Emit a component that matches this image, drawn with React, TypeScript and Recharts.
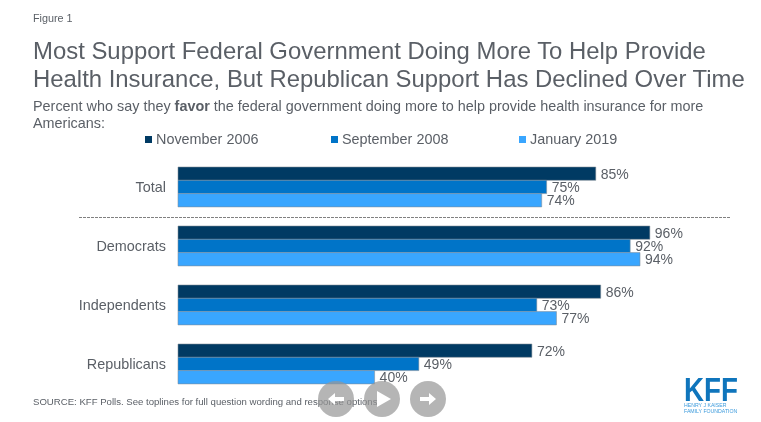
import { BarChart, Bar, XAxis, YAxis, Legend, LabelList } from 'recharts';

const groups = ['Total', 'Democrats', 'Independents', 'Republicans'];
const nov2006 = [85, 96, 86, 72];
const sep2008 = [75, 92, 73, 49];
const jan2019 = [74, 94, 77, 40];

const data = groups.map((group, i) => ({
  group,
  nov2006: nov2006[i],
  sep2008: sep2008[i],
  jan2019: jan2019[i],
}));

const FONT = '"Liberation Sans", Arial, sans-serif';
const TEXT = '#5a5f66';
const BAR_EDGE = 'rgba(130,140,150,0.55)';

const legendLeft = [145, 331, 519];

function KeyRow({ payload }: any) {
  return (
    <div style={{ position: 'relative', height: 18 }}>
      {(payload || []).map((p: any, i: number) => (
        <div key={p.value} style={{ position: 'absolute', left: legendLeft[i], top: 0, display: 'flex', alignItems: 'center', whiteSpace: 'nowrap', fontSize: 14.4, color: TEXT, fontFamily: FONT }}>
          <span style={{ width: 7, height: 7, background: p.color, marginRight: 4, display: 'inline-block' }} />
          {p.value}
        </div>
      ))}
    </div>
  );
}

function Circle({ left, icon }: { left: number; icon: string }) {
  return (
    <div style={{ position: 'absolute', left, top: 381, width: 36, height: 36, borderRadius: 18, background: 'rgba(150,150,150,0.7)' }}>
      <svg width={36} height={36}>
        <path d={icon} fill="#fff" />
      </svg>
    </div>
  );
}

export default function App() {
  return (
    <div style={{ position: 'absolute', left: 0, top: 0, width: 761, height: 422, background: '#fff', overflow: 'hidden', fontFamily: FONT, color: TEXT, filter: 'blur(0.3px)' }}>
      <div style={{ position: 'absolute', left: 33, top: 12, fontSize: 10.8 }}>Figure 1</div>
      <div style={{ position: 'absolute', left: 33, top: 37, fontSize: 23.9, lineHeight: '28px', whiteSpace: 'nowrap' }}>
        Most Support Federal Government Doing More To Help Provide<br />
        Health Insurance, But Republican Support Has Declined Over Time
      </div>
      <div style={{ position: 'absolute', left: 33, top: 98, width: 700, fontSize: 14.4, lineHeight: '17px' }}>
        Percent who say they <b>favor</b> the federal government doing more to help provide health insurance for more Americans:
      </div>

      <BarChart
        width={761}
        height={422}
        data={data}
        layout="vertical"
        barSize={13.3}
        barGap={0}
        margin={{ top: 139, right: 91.5, bottom: 29, left: 0 }}
        style={{ position: 'absolute', left: 0, top: 0 }}
      >
        <XAxis type="number" domain={[0, 100]} hide />
        <YAxis
          type="category"
          dataKey="group"
          axisLine={false}
          tickLine={false}
          width={178}
          tickMargin={6}
          tick={{ fill: TEXT, fontSize: 14.4, fontFamily: FONT }}
        />
        <Legend verticalAlign="top" align="left" itemSorter={null} content={<KeyRow />} wrapperStyle={{ left: 0, top: 131, width: 761 }} />
        <Bar dataKey="nov2006" name="November 2006" fill="#003a63" stroke={BAR_EDGE} isAnimationActive={false}>
          <LabelList dataKey="nov2006" position="right" offset={5} formatter={(v: number) => `${v}%`} fill={TEXT} fontSize={14} fontFamily={FONT} />
        </Bar>
        <Bar dataKey="sep2008" name="September 2008" fill="#0074c8" stroke={BAR_EDGE} isAnimationActive={false}>
          <LabelList dataKey="sep2008" position="right" offset={5} formatter={(v: number) => `${v}%`} fill={TEXT} fontSize={14} fontFamily={FONT} />
        </Bar>
        <Bar dataKey="jan2019" name="January 2019" fill="#39a6ff" stroke={BAR_EDGE} isAnimationActive={false}>
          <LabelList dataKey="jan2019" position="right" offset={5} formatter={(v: number) => `${v}%`} fill={TEXT} fontSize={14} fontFamily={FONT} />
        </Bar>
      </BarChart>

      <svg width={761} height={422} style={{ position: 'absolute', left: 0, top: 0, pointerEvents: 'none' }}>
        <line x1={79} x2={731} y1={217.5} y2={217.5} stroke="#808080" strokeDasharray="3 1" />
      </svg>

      <div style={{ position: 'absolute', left: 33, top: 396, fontSize: 9.6, whiteSpace: 'nowrap' }}>
        SOURCE: KFF Polls. See toplines for full question wording and response options.
      </div>

      <Circle left={318} icon="M10 18 L17 12 V16 H26 V20 H17 V24 Z" />
      <Circle left={364} icon="M13 10 L27 18 L13 26 Z" />
      <Circle left={410} icon="M26 18 L19 12 V16 H10 V20 H19 V24 Z" />

      <div style={{ position: 'absolute', left: 684, top: 372.5, fontSize: 33, lineHeight: '33px', fontWeight: 700, color: '#0f75bc', transform: 'scaleX(0.84)', transformOrigin: 'left' }}>KFF</div>
      <div style={{ position: 'absolute', left: 684, top: 402, fontSize: 5.2, lineHeight: '6px', color: '#3d9bdc', whiteSpace: 'nowrap' }}>
        HENRY J KAISER<br />FAMILY FOUNDATION
      </div>
    </div>
  );
}
